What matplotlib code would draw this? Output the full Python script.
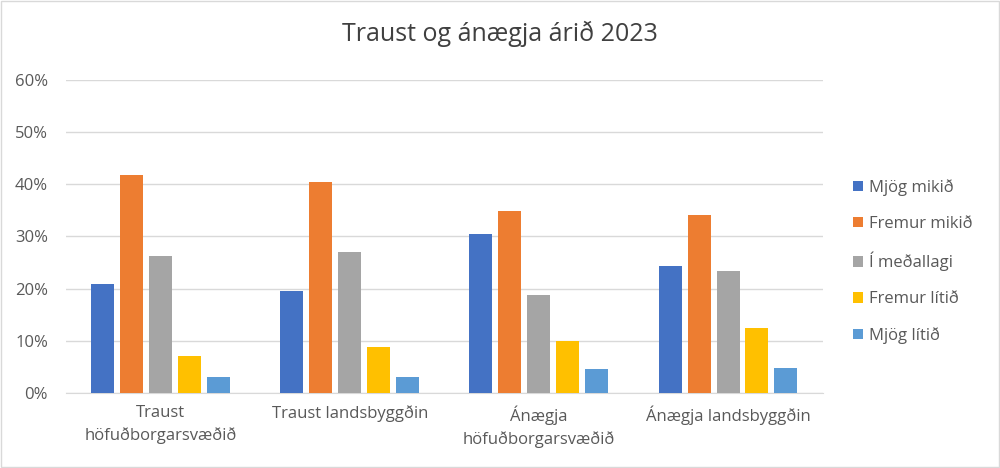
import matplotlib
matplotlib.use("Agg")
import matplotlib.pyplot as plt
import numpy as np
from matplotlib.patches import Rectangle

plt.rcParams['font.family'] = ['Open Sans', 'DejaVu Sans']

categories = ["Traust\nhöfuðborgarsvæðið", "Traust landsbyggðin",
              "Ánægja\nhöfuðborgarsvæðið", "Ánægja landsbyggðin"]
series_names = ["Mjög mikið", "Fremur mikið", "Í meðallagi", "Fremur lítið", "Mjög lítið"]
mjog_mikid = [20.8, 19.6, 30.5, 24.4]
fremur_mikid = [41.8, 40.4, 34.9, 34.2]
i_medallagi = [26.2, 27.1, 18.8, 23.3]
fremur_litid = [7.0, 8.8, 10.0, 12.4]
mjog_litid = [3.0, 3.0, 4.6, 4.7]
yticks = [0, 10, 20, 30, 40, 50, 60]
ytick_labels = ["0%", "10%", "20%", "30%", "40%", "50%", "60%"]

series = [mjog_mikid, fremur_mikid, i_medallagi, fremur_litid, mjog_litid]
colors = ["#4472C4", "#ED7D31", "#A5A5A5", "#FFC000", "#5B9BD5"]

fig = plt.figure(figsize=(10, 4.68), dpi=100)
ax = fig.add_axes([0.066, 0.1603, 0.7566, 0.669])

x = np.arange(len(categories))
step = 0.153
width = 0.1216
for i, (vals, col, name) in enumerate(zip(series, colors, series_names)):
    ax.bar(x + (i - 2) * step, vals, width=width, color=col, label=name, zorder=3)

ax.set_xlim(-0.5, len(categories) - 0.5)
ax.set_ylim(0, 60)
ax.set_yticks(yticks)
ax.set_yticklabels(ytick_labels)
ax.set_xticks(x)
ax.set_xticklabels(categories)
ax.grid(axis='y', color='#D9D9D9', linewidth=1, zorder=0)
for s in ['top', 'right', 'left']:
    ax.spines[s].set_visible(False)
ax.spines['bottom'].set_color('#D9D9D9')
ax.tick_params(axis='both', length=0, labelsize=12, colors='#595959')
ax.tick_params(axis='y', pad=13)
ax.tick_params(axis='x', pad=9)
for lbl in ax.get_xticklabels():
    lbl.set_linespacing(1.45)

fig.suptitle("Traust og ánægja árið 2023", x=0.5, y=0.955, fontsize=18, color='#404040')

leg = ax.legend(loc='center left', bbox_to_anchor=(1.02, 0.42), frameon=False,
                fontsize=12, labelcolor='#595959', handlelength=0.6, handleheight=0.6,
                handletextpad=0.35, labelspacing=1.2)

fig.patches.append(Rectangle((0.001, 0.002), 0.998, 0.996, transform=fig.transFigure,
                             fill=False, edgecolor='#D9D9D9', linewidth=1))

fig.savefig("out.png", dpi=100)
